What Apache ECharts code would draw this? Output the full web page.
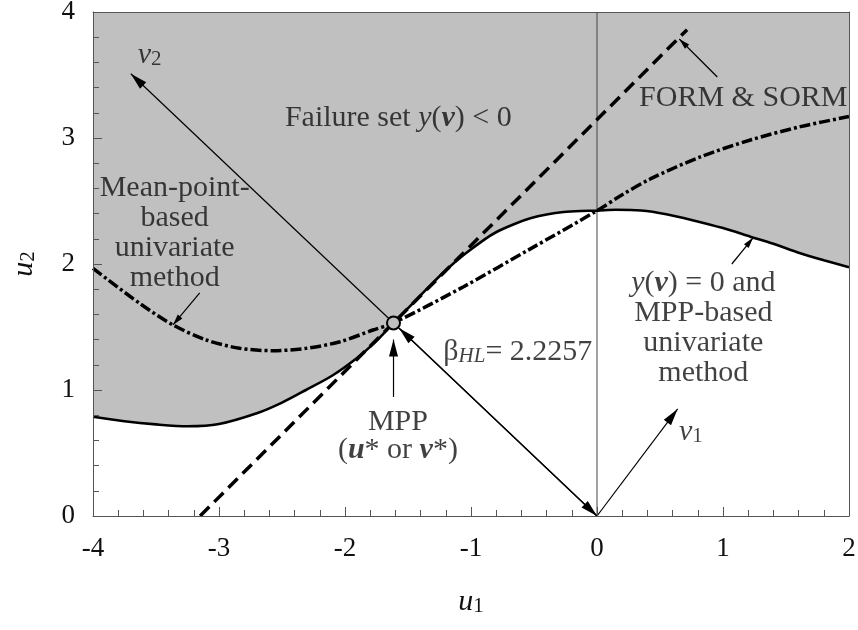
<!DOCTYPE html>
<html>
<head>
<meta charset="utf-8">
<script src="https://cdn.jsdelivr.net/npm/echarts@6/dist/echarts.min.js"></script>
<style>
html, body { margin: 0; padding: 0; background: #fff; }
#chart { width: 858px; height: 630px; }
</style>
</head>
<body>
<div id="chart"></div>
<script>
// Standard normal space u1-u2: ranges and tick spacing
const u1Range = [-4, 2];
const u2Range = [0, 4];
const tickStep = 1;

// Limit state y(v) = 0 (coincides with the MPP-based univariate method)
const limitU1 = [-4, -3.75, -3.5, -3.25, -3.0, -2.7, -2.5, -2.31, -2.1, -1.91, -1.76, -1.615, -1.45, -1.323, -1.2, -1.059, -0.9, -0.794, -0.65, -0.529, -0.4, -0.265, -0.13, 0, 0.15, 0.35, 0.55, 0.75, 1.0, 1.217, 1.4, 1.614, 1.8, 2.0];
const limitU2 = [0.788, 0.752, 0.727, 0.712, 0.73, 0.815, 0.9, 1.0, 1.115, 1.25, 1.38, 1.532, 1.7, 1.83, 1.95, 2.071, 2.19, 2.256, 2.32, 2.363, 2.393, 2.413, 2.421, 2.423, 2.43, 2.424, 2.395, 2.35, 2.285, 2.217, 2.16, 2.085, 2.03, 1.975];

// Mean-point-based univariate approximation
const meanU1 = [-4, -3.63, -3.365, -3.1, -2.836, -2.571, -2.306, -2.04, -1.778, -1.615, -1.059, -0.529, 0, 0.2, 0.423, 0.82, 1.217, 1.614, 2.0];
const meanU2 = [1.966, 1.688, 1.516, 1.397, 1.331, 1.312, 1.331, 1.383, 1.476, 1.532, 1.82, 2.12, 2.423, 2.55, 2.675, 2.85, 2.984, 3.09, 3.17];

// FORM & SORM: linearization at the MPP
const formU1 = [-3.15, 0.715];
const formU2 = [0, 3.86];

// Most probable point and reliability index
const mpp = [-1.615, 1.532];
const betaHL = 2.2257;

// Rotated axis v1-v2 and pointer arrows: [from, to, headAtStart, headAtEnd, large]
const arrowV2 = [[0, 0], [-3.70, 3.51], 0, 1, 1];
const arrowBeta = [[-1.57, 1.49], [0, 0], 1, 1, 1];
const arrowV1 = [[0, 0], [0.64, 0.85], 0, 1, 1];
const arrowMpp = [[-1.615, 0.945], [-1.615, 1.40], 0, 1, 1];
const arrowMean = [[-3.153, 1.77], [-3.365, 1.516], 0, 1, 0];
const arrowLimit = [[1.07, 2.0], [1.24, 2.21], 0, 1, 0];
const arrowForm = [[0.955, 3.484], [0.653, 3.786], 0, 1, 0];
const arrows = [arrowV2, arrowBeta, arrowV1, arrowMpp, arrowMean, arrowLimit, arrowForm];

// Annotation anchors (data coordinates) and their texts
const noteAt = [
  [-1.577, 3.159],
  [1.161, 3.317],
  [-3.352, 2.246],
  [0.844, 1.492],
  [-1.58, 0.746],
  [-1.58, 0.524],
  [-1.22, 1.302],
  [0.745, 0.667],
  [-3.55, 3.659]
];
const noteText = [
  '{n|Failure set }{i|y}{n|(}{b|v}{n|) < 0}',
  '{n|FORM & SORM}',
  '{n|Mean-point-}\n{n|based}\n{n|univariate}\n{n|method}',
  '{i|y}{n|(}{b|v}{n|) = 0 and}\n{n|MPP-based}\n{n|univariate}\n{n|method}',
  '{n|MPP}',
  '{n|(}{b|u}{n|* or }{b|v}{n|*)}',
  '{n|β}{si|HL}{n|= ' + betaHL.toFixed(4) + '}',
  '{i|v}{s|1}',
  '{i|v}{s|2}'
];
const noteAlign = ['center', 'center', 'center', 'center', 'center', 'center', 'left', 'center', 'center'];

const serif = '"Liberation Serif", "DejaVu Serif", serif';
const ink = '#111';
const axisGray = '#555';

const rich = {
  n:  { fontFamily: serif, fontSize: 30, color: ink, lineHeight: 30 },
  i:  { fontFamily: serif, fontSize: 30, color: ink, lineHeight: 30, fontStyle: 'italic' },
  b:  { fontFamily: serif, fontSize: 30, color: ink, lineHeight: 30, fontStyle: 'italic', fontWeight: 'bold' },
  s:  { fontFamily: serif, fontSize: 21, color: ink, lineHeight: 12, verticalAlign: 'bottom' },
  si: { fontFamily: serif, fontSize: 21, color: ink, lineHeight: 10, verticalAlign: 'bottom', fontStyle: 'italic' }
};

const pairs = (xs, ys) => xs.map((x, i) => [x, ys[i]]);

// Arrow: thin shaft with filled triangular heads, positioned through the axes
function renderArrow(params, api) {
  const p1 = api.coord([api.value(0), api.value(1)]);
  const p2 = api.coord([api.value(2), api.value(3)]);
  const large = api.value(6);
  const L = large ? 17 : 11;
  const W = large ? 4.5 : 3;
  function head(tip, from) {
    const dx = tip[0] - from[0], dy = tip[1] - from[1];
    const len = Math.hypot(dx, dy) || 1;
    const ux = dx / len, uy = dy / len;
    const bx = tip[0] - ux * L, by = tip[1] - uy * L;
    return {
      type: 'polygon',
      shape: { points: [[tip[0], tip[1]], [bx - uy * W, by + ux * W], [bx + uy * W, by - ux * W]] },
      style: { fill: '#000' }
    };
  }
  const children = [{
    type: 'line',
    shape: { x1: p1[0], y1: p1[1], x2: p2[0], y2: p2[1] },
    style: { stroke: '#000', lineWidth: 1.2 }
  }];
  if (api.value(4)) children.push(head(p1, p2));
  if (api.value(5)) children.push(head(p2, p1));
  return { type: 'group', children };
}

const axisCommon = {
  type: 'value',
  interval: tickStep,
  z: 5,
  splitLine: { show: false },
  axisLine: { show: true, onZero: false, lineStyle: { color: axisGray, width: 1 } },
  axisTick: { show: true, inside: true, length: 9, lineStyle: { color: axisGray, width: 1 } },
  minorTick: { show: true, splitNumber: 5, length: 6, lineStyle: { color: axisGray, width: 1 } },
  axisLabel: { fontFamily: serif, fontSize: 27, color: ink }
};
const frameAxis = {
  type: 'value',
  interval: tickStep,
  z: 5,
  splitLine: { show: false },
  axisLine: { show: true, onZero: false, lineStyle: { color: axisGray, width: 1 } },
  axisTick: { show: false },
  axisLabel: { show: false }
};

const chart = echarts.init(document.getElementById('chart'), null, { renderer: 'canvas' });
chart.setOption({
  animation: false,
  backgroundColor: '#fff',
  grid: { left: 93, right: 9, top: 12, bottom: 114, outerBoundsMode: 'none' },
  xAxis: [
    Object.assign({}, axisCommon, {
      min: u1Range[0], max: u1Range[1], position: 'bottom',
      axisLabel: Object.assign({}, axisCommon.axisLabel, { margin: 19 }),
      name: '{i|u}{s|1}', nameLocation: 'middle', nameGap: 71,
      nameTextStyle: { rich }
    }),
    Object.assign({}, frameAxis, { min: u1Range[0], max: u1Range[1], position: 'top' })
  ],
  yAxis: [
    Object.assign({}, axisCommon, {
      min: u2Range[0], max: u2Range[1], position: 'left',
      axisLabel: Object.assign({}, axisCommon.axisLabel, { margin: 18 }),
      name: '{i|u}{s|2}', nameLocation: 'middle', nameGap: 54, nameRotate: 90,
      nameTextStyle: { rich }
    }),
    Object.assign({}, frameAxis, { min: u2Range[0], max: u2Range[1], position: 'right' })
  ],
  series: [
    {
      // failure set: region above the limit state
      type: 'line', z: 1, silent: true, showSymbol: false, smooth: 0.3,
      data: pairs(limitU1, limitU2),
      lineStyle: { width: 0 },
      areaStyle: { color: '#c0c0c0', opacity: 1, origin: 'end' }
    },
    {
      type: 'line', z: 2, silent: true, showSymbol: false,
      data: [[0, u2Range[0]], [0, u2Range[1]]],
      lineStyle: { color: '#444', width: 1 }
    },
    {
      type: 'line', z: 3, silent: true, showSymbol: false, smooth: 0.3,
      data: pairs(limitU1, limitU2),
      lineStyle: { color: '#000', width: 2.6 }
    },
    {
      type: 'line', z: 3, silent: true, showSymbol: false,
      data: pairs(formU1, formU2),
      lineStyle: { color: '#000', width: 3.5, type: [13, 7] }
    },
    {
      type: 'line', z: 3, silent: true, showSymbol: false, smooth: 0.3,
      data: pairs(meanU1, meanU2),
      lineStyle: { color: '#000', width: 3.5, type: [11, 3, 3, 3] }
    },
    {
      type: 'custom', z: 4, silent: true,
      renderItem: renderArrow,
      encode: { x: [0, 2], y: [1, 3] },
      data: arrows.map(a => [a[0][0], a[0][1], a[1][0], a[1][1], a[2], a[3], a[4]])
    },
    {
      type: 'scatter', z: 5, silent: true,
      symbol: 'circle', symbolSize: 13,
      itemStyle: { color: '#c0c0c0', borderColor: '#000', borderWidth: 2, opacity: 1 },
      data: [mpp]
    },
    {
      type: 'scatter', z: 6, silent: true,
      symbolSize: 0.1,
      itemStyle: { color: 'rgba(0,0,0,0)' },
      data: noteAt.map((p, i) => ({
        value: p,
        label: { align: noteAlign[i] }
      })),
      label: {
        show: true,
        position: 'inside',
        formatter: p => noteText[p.dataIndex],
        rich
      }
    }
  ]
});
</script>
</body>
</html>
